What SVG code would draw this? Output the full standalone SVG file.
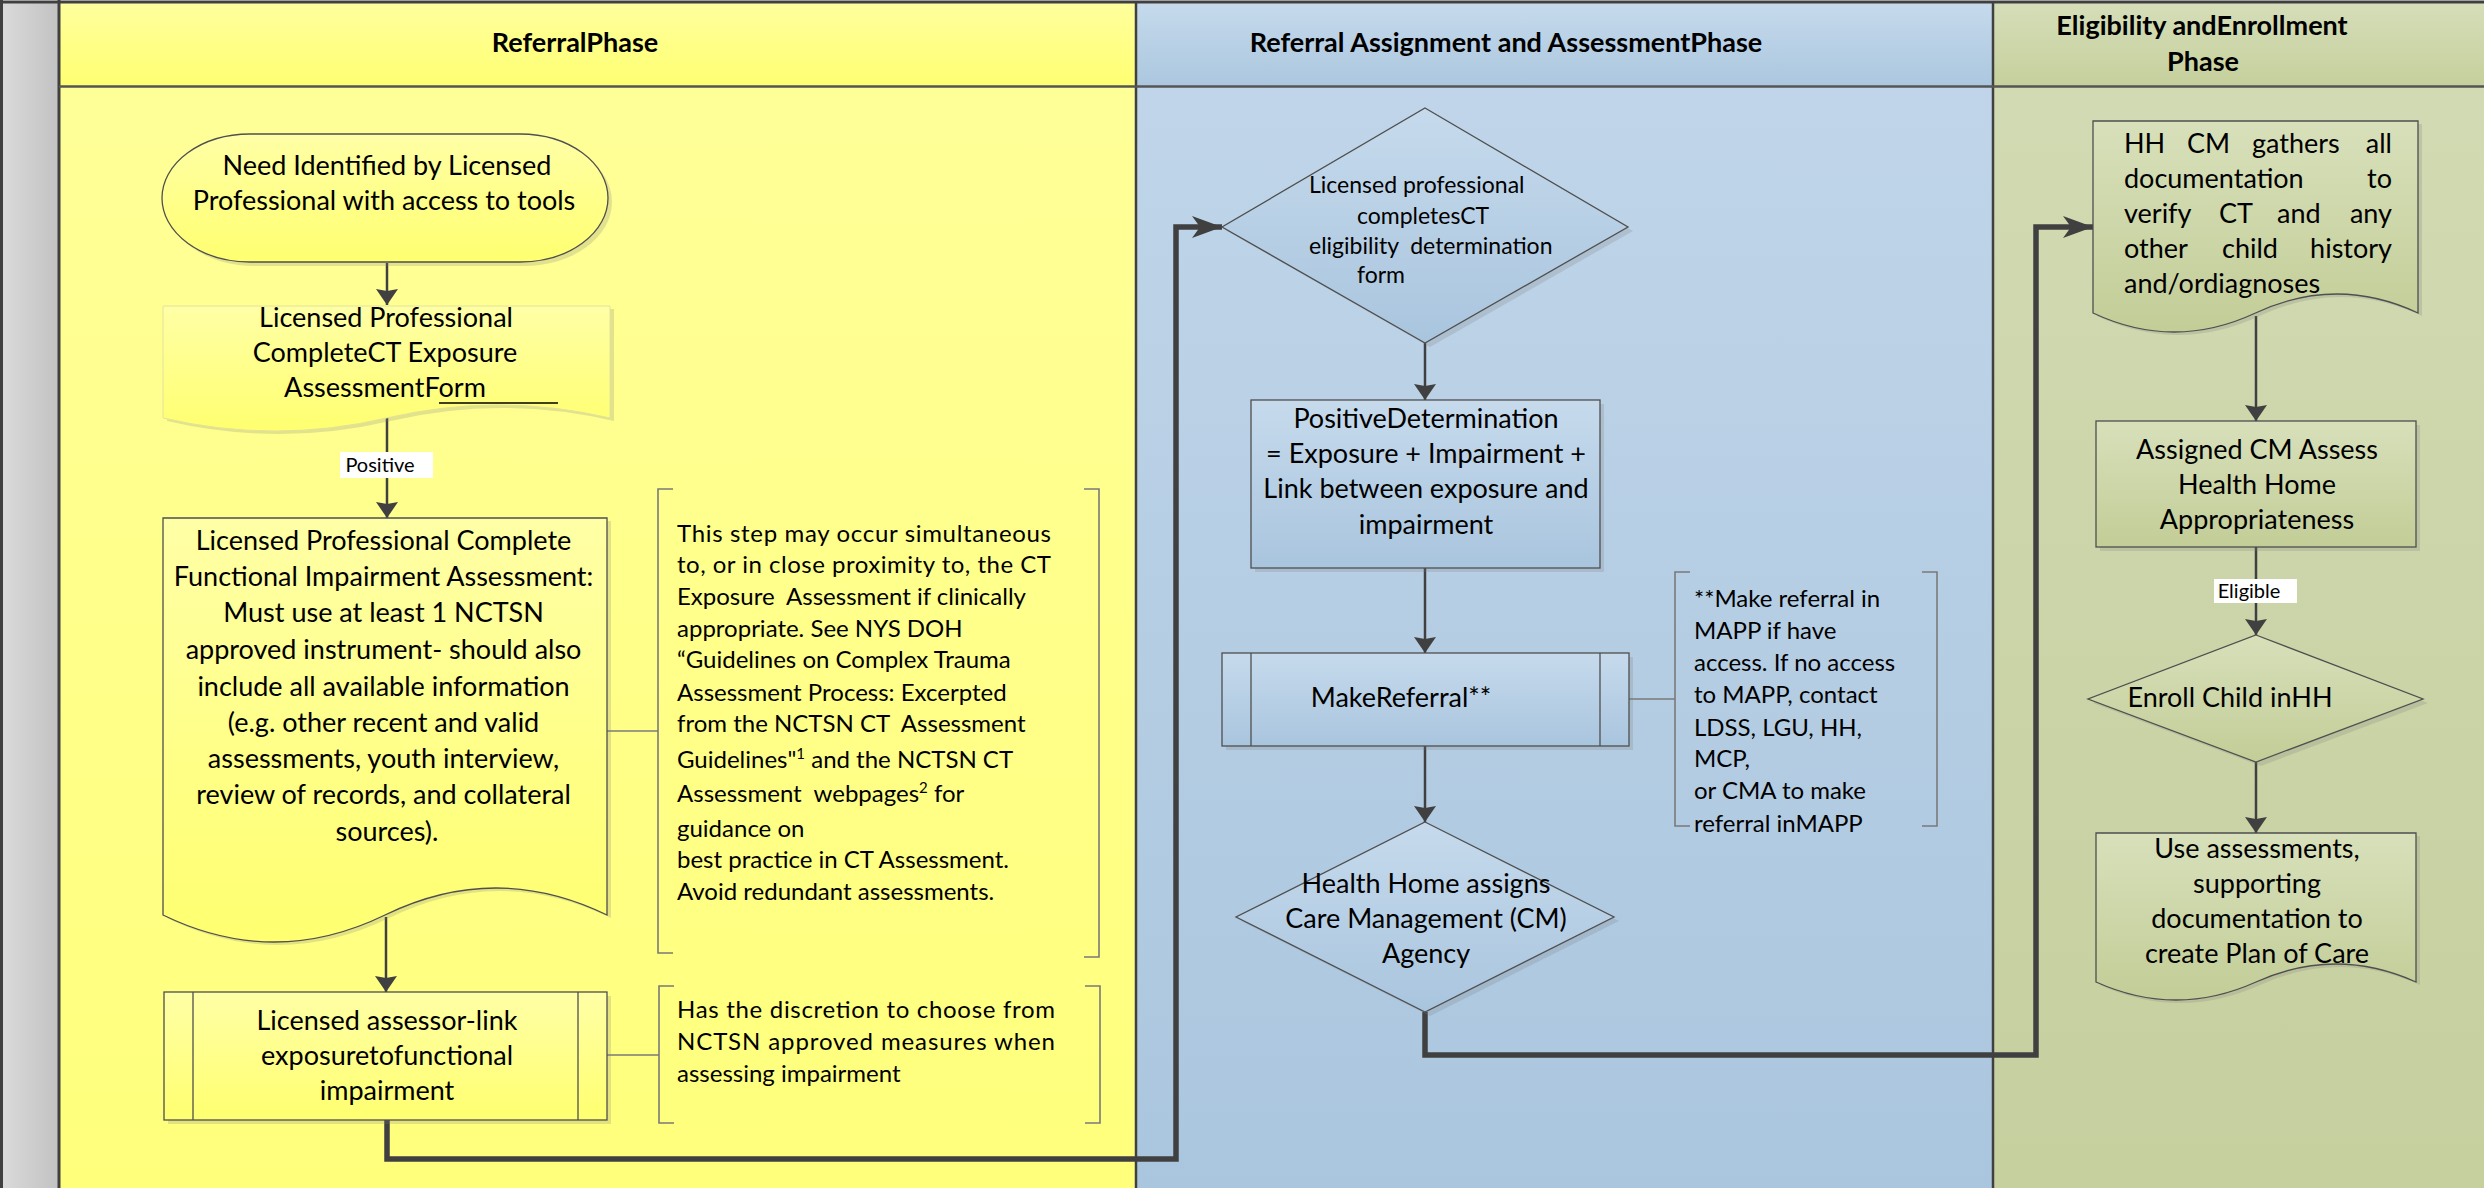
<svg xmlns="http://www.w3.org/2000/svg" width="2484" height="1188" viewBox="0 0 2484 1188">
<defs>
<linearGradient id="gGray" x1="0" y1="0" x2="1" y2="0"><stop offset="0" stop-color="#DADADA"/><stop offset="1" stop-color="#C2C2C2"/></linearGradient>
<linearGradient id="gYh" x1="0" y1="0" x2="0" y2="1"><stop offset="0" stop-color="#FFFF9E"/><stop offset="1" stop-color="#FFFF72"/></linearGradient>
<linearGradient id="gY" x1="0" y1="0" x2="0" y2="1"><stop offset="0" stop-color="#FFFF98"/><stop offset="1" stop-color="#FFFF7C"/></linearGradient>
<linearGradient id="gBh" x1="0" y1="0" x2="0" y2="1"><stop offset="0" stop-color="#C6DAEC"/><stop offset="1" stop-color="#ABC7DF"/></linearGradient>
<linearGradient id="gB" x1="0" y1="0" x2="0" y2="1"><stop offset="0" stop-color="#C0D5E9"/><stop offset="1" stop-color="#AAC6DE"/></linearGradient>
<linearGradient id="gGh" x1="0" y1="0" x2="0" y2="1"><stop offset="0" stop-color="#D5DEB9"/><stop offset="1" stop-color="#C6D09C"/></linearGradient>
<linearGradient id="gG" x1="0" y1="0" x2="0" y2="1"><stop offset="0" stop-color="#D1DAB2"/><stop offset="1" stop-color="#C6CF9E"/></linearGradient>
<linearGradient id="nY" x1="0" y1="0" x2="0" y2="1"><stop offset="0" stop-color="#FFFFA6"/><stop offset="1" stop-color="#FFFF70"/></linearGradient>
<linearGradient id="nB" x1="0" y1="0" x2="0" y2="1"><stop offset="0" stop-color="#C6DAEC"/><stop offset="1" stop-color="#A9C5DE"/></linearGradient>
<linearGradient id="nG" x1="0" y1="0" x2="0" y2="1"><stop offset="0" stop-color="#D7E0BA"/><stop offset="1" stop-color="#C3CD97"/></linearGradient>
<marker id="aThin" markerUnits="userSpaceOnUse" markerWidth="17" markerHeight="22" refX="16" refY="11" orient="auto" viewBox="0 0 17 22">
<path d="M0,0 L16,11 L0,22 L2,11 Z" fill="#404040"/>
</marker>
<marker id="aThick" markerUnits="userSpaceOnUse" markerWidth="31" markerHeight="22" refX="30" refY="11" orient="auto" viewBox="0 0 31 22">
<path d="M0,0 L30,11 L0,22 L8,11 Z" fill="#404040"/>
</marker>
</defs>
<style>
.t{font-family:Lato,"Liberation Sans",sans-serif;fill:#000}
.hd{font-size:27px;font-weight:bold;text-anchor:middle}
.nt{font-size:27px;text-anchor:middle}
.an{font-size:24px;white-space:pre}
.lb{font-size:20px;text-anchor:middle}
.shape{stroke:#4F4F4F;stroke-width:1.3}
.sh{fill:#7A7A7A;opacity:.22}
.cn{fill:none;stroke:#404040;stroke-width:2.5}
.ck{fill:none;stroke:#404040;stroke-width:5.5}
.br{fill:none;stroke:#7A7A7A;stroke-width:1.6}
.inner{stroke:#4F4F4F;stroke-width:1.3}
.lab{fill:#FFFFFF}
</style>

<!-- lanes -->
<g id="lanes">
<rect x="2" y="2" width="57" height="1186" fill="url(#gGray)"/>
<rect x="59" y="2" width="1077" height="84" fill="url(#gYh)"/>
<rect x="59" y="86" width="1077" height="1102" fill="url(#gY)"/>
<rect x="1136" y="2" width="857" height="84" fill="url(#gBh)"/>
<rect x="1136" y="86" width="857" height="1102" fill="url(#gB)"/>
<rect x="1993" y="2" width="491" height="84" fill="url(#gGh)"/>
<rect x="1993" y="86" width="491" height="1102" fill="url(#gG)"/>
<line x1="0" y1="2" x2="2484" y2="2" stroke="#404040" stroke-width="3"/>
<line x1="1.5" y1="0" x2="1.5" y2="1188" stroke="#404040" stroke-width="3"/>
<line x1="59" y1="0" x2="59" y2="1188" stroke="#404040" stroke-width="3"/>
<line x1="1136" y1="2" x2="1136" y2="1188" stroke="#404040" stroke-width="2.5"/>
<line x1="1993" y1="2" x2="1993" y2="1188" stroke="#404040" stroke-width="2.5"/>
<line x1="59" y1="86.5" x2="2484" y2="86.5" stroke="#555555" stroke-width="2.5"/>
<text class="t hd" x="575" y="52">ReferralPhase</text>
<text class="t hd" x="1506" y="52">Referral Assignment and AssessmentPhase</text>
<text class="t hd" x="2202" y="35">Eligibility andEnrollment</text>
<text class="t hd" x="2203" y="71">Phase</text>
</g>

<!-- connectors -->
<g id="connectors">
<line class="cn" x1="387" y1="263" x2="387" y2="305" marker-end="url(#aThin)"/>
<line class="cn" x1="387" y1="418" x2="387" y2="518" marker-end="url(#aThin)"/>
<rect class="lab" x="340" y="452" width="93" height="26"/>
<text class="t lb" x="380" y="472">Positive</text>
<line class="cn" x1="386" y1="917" x2="386" y2="992" marker-end="url(#aThin)"/>
<path class="ck" d="M387,1120 V1159 H1176 V227 H1222" marker-end="url(#aThick)"/>
<line class="cn" x1="1425" y1="343" x2="1425" y2="400" marker-end="url(#aThin)"/>
<line class="cn" x1="1425" y1="568" x2="1425" y2="653" marker-end="url(#aThin)"/>
<line class="cn" x1="1425" y1="746" x2="1425" y2="822" marker-end="url(#aThin)"/>
<path class="ck" d="M1425,1012 V1055 H2036 V227 H2093" marker-end="url(#aThick)"/>
<line class="cn" x1="2256" y1="316" x2="2256" y2="421" marker-end="url(#aThin)"/>
<line class="cn" x1="2256" y1="547" x2="2256" y2="635" marker-end="url(#aThin)"/>
<rect class="lab" x="2214" y="579" width="83" height="24"/>
<text class="t lb" x="2249" y="598">Eligible</text>
<line class="cn" x1="2256" y1="762" x2="2256" y2="833" marker-end="url(#aThin)"/>
<line class="br" x1="607" y1="731" x2="658" y2="731"/>
<line class="br" x1="607" y1="1055" x2="659" y2="1055"/>
<line class="br" x1="1629" y1="699" x2="1675" y2="699"/>
</g>

<!-- Referral phase nodes -->
<g id="n-need">
<path class="sh" transform="translate(4,4)" d="M250,134 H520 A88,64 0 0 1 520,262 H250 A88,64 0 0 1 250,134 Z"/>
<path class="shape" fill="url(#nY)" d="M250,134 H520 A88,64 0 0 1 520,262 H250 A88,64 0 0 1 250,134 Z"/>
<text class="t nt"><tspan x="387" y="175">Need Identified by Licensed</tspan><tspan x="384" y="210">Professional with access to tools</tspan></text>
</g>

<g id="n-exposure">
<path class="sh" transform="translate(4,3)" d="M163,306 H610 V418 Q498,392 386.5,418 T163,418 Z"/>
<path fill="url(#nY)" stroke="#E2E29A" stroke-width="1" d="M163,306 H610 V418 Q498,392 386.5,418 T163,418 Z"/>
<text class="t nt"><tspan x="386" y="327">Licensed Professional</tspan><tspan x="385" y="362">CompleteCT Exposure</tspan><tspan x="385" y="397">AssessmentForm</tspan></text>
<line x1="439" y1="403" x2="558" y2="403" stroke="#000" stroke-width="1.5"/>
</g>

<g id="n-functional">
<path class="sh" transform="translate(4,3)" d="M163,518 H607 V915 Q496,861 385,915 T163,915 Z"/>
<path class="shape" fill="url(#nY)" d="M163,518 H607 V915 Q496,861 385,915 T163,915 Z"/>
<text class="t nt">
<tspan x="387" y="550">Licensed Professional Complete</tspan>
<tspan x="387" y="586">Functional Impairment Assessment:</tspan>
<tspan x="387" y="622">Must use at least 1 NCTSN</tspan>
<tspan x="387" y="659">approved instrument- should also</tspan>
<tspan x="387" y="696">include all available information</tspan>
<tspan x="387" y="732">(e.g. other recent and valid</tspan>
<tspan x="387" y="768">assessments, youth interview,</tspan>
<tspan x="387" y="804">review of records, and collateral</tspan>
<tspan x="387" y="841">sources).</tspan>
</text>
</g>

<g id="n-note1">
<path class="br" d="M673,489 H658 V953 H673"/>
<path class="br" d="M1084,489 H1099 V957 H1084"/>
<text class="t an" x="677" y="542" textLength="374" lengthAdjust="spacing">This step may occur simultaneous</text>
<text class="t an" x="677" y="573" textLength="374" lengthAdjust="spacing">to, or in close proximity to, the CT</text>
<text class="t an" xml:space="preserve">
<tspan x="677" y="605">Exposure  Assessment if clinically</tspan>
<tspan x="677" y="637">appropriate. See NYS DOH</tspan>
<tspan x="677" y="668">“Guidelines on Complex Trauma</tspan>
<tspan x="677" y="701">Assessment Process: Excerpted</tspan>
<tspan x="677" y="732">from the NCTSN CT  Assessment</tspan>
</text>
<text class="t an" x="677" y="768">Guidelines"<tspan font-size="15" dy="-9">1</tspan><tspan dy="9"> and the NCTSN CT</tspan></text>
<text class="t an" x="677" y="802" xml:space="preserve">Assessment  webpages<tspan font-size="15" dy="-9">2</tspan><tspan dy="9"> for</tspan></text>
<text class="t an">
<tspan x="677" y="837">guidance on</tspan>
<tspan x="677" y="868">best practice in CT Assessment.</tspan>
<tspan x="677" y="900">Avoid redundant assessments.</tspan>
</text>
</g>

<g id="n-link">
<rect class="sh" x="168" y="996" width="443" height="128"/>
<rect class="shape" fill="url(#nY)" x="164" y="992" width="443" height="128"/>
<line class="inner" x1="193" y1="992" x2="193" y2="1120"/>
<line class="inner" x1="578" y1="992" x2="578" y2="1120"/>
<text class="t nt"><tspan x="387" y="1030">Licensed assessor-link</tspan><tspan x="387" y="1065">exposuretofunctional</tspan><tspan x="387" y="1100">impairment</tspan></text>
</g>

<g id="n-note2">
<path class="br" d="M674,986 H659 V1123 H674"/>
<path class="br" d="M1085,986 H1100 V1123 H1085"/>
<text class="t an" x="677" y="1018" textLength="378" lengthAdjust="spacing">Has the discretion to choose from</text>
<text class="t an" x="677" y="1050" textLength="378" lengthAdjust="spacing">NCTSN approved measures when</text>
<text class="t an" x="677" y="1082">assessing impairment</text>
</g>

<!-- Referral assignment nodes -->
<g id="n-eligform">
<path class="sh" transform="translate(5,4)" d="M1425,108 L1628,227 L1425,343 L1222,227 Z"/>
<path class="shape" fill="url(#nB)" d="M1425,108 L1628,227 L1425,343 L1222,227 Z"/>
<text class="t" font-size="23" xml:space="preserve" style="white-space:pre"><tspan x="1309" y="193">Licensed professional</tspan><tspan x="1357" y="224">completesCT</tspan><tspan x="1309" y="254">eligibility  determination</tspan><tspan x="1357" y="283">form</tspan></text>
</g>

<g id="n-positive">
<rect class="sh" x="1255" y="404" width="349" height="168"/>
<rect class="shape" fill="url(#nB)" x="1251" y="400" width="349" height="168"/>
<text class="t nt"><tspan x="1426" y="428">PositiveDetermination</tspan><tspan x="1426" y="463">= Exposure + Impairment +</tspan><tspan x="1426" y="498">Link between exposure and</tspan><tspan x="1426" y="534">impairment</tspan></text>
</g>

<g id="n-makeref">
<rect class="sh" x="1226" y="657" width="407" height="93"/>
<rect class="shape" fill="url(#nB)" x="1222" y="653" width="407" height="93"/>
<line class="inner" x1="1251" y1="653" x2="1251" y2="746"/>
<line class="inner" x1="1600" y1="653" x2="1600" y2="746"/>
<text class="t nt" x="1401" y="707">MakeReferral**</text>
</g>

<g id="n-note3">
<path class="br" d="M1690,572 H1675 V826 H1690"/>
<path class="br" d="M1922,572 H1937 V826 H1922"/>
<text class="t an">
<tspan x="1694" y="607">**Make referral in</tspan>
<tspan x="1694" y="639">MAPP if have</tspan>
<tspan x="1694" y="671">access. If no access</tspan>
<tspan x="1694" y="703">to MAPP, contact</tspan>
<tspan x="1694" y="736">LDSS, LGU, HH,</tspan>
<tspan x="1694" y="767">MCP,</tspan>
<tspan x="1694" y="799">or CMA to make</tspan>
<tspan x="1694" y="832">referral inMAPP</tspan>
</text>
</g>

<g id="n-assigncm">
<path class="sh" transform="translate(5,4)" d="M1425,822 L1614,917 L1425,1012 L1236,917 Z"/>
<path class="shape" fill="url(#nB)" d="M1425,822 L1614,917 L1425,1012 L1236,917 Z"/>
<text class="t nt"><tspan x="1426" y="893">Health Home assigns</tspan><tspan x="1426" y="928">Care Management (CM)</tspan><tspan x="1426" y="963">Agency</tspan></text>
</g>

<!-- Eligibility nodes -->
<g id="n-gather">
<path class="sh" transform="translate(4,3)" d="M2093,121 H2418 V313 Q2337,275 2255.5,313 T2093,313 Z"/>
<path class="shape" fill="url(#nG)" d="M2093,121 H2418 V313 Q2337,275 2255.5,313 T2093,313 Z"/>
<g class="t" font-size="27">
<text x="2124" y="153">HH</text><text x="2187" y="153">CM</text><text x="2252" y="153">gathers</text><text x="2392" y="153" text-anchor="end">all</text>
<text x="2124" y="188">documentation</text><text x="2392" y="188" text-anchor="end">to</text>
<text x="2124" y="223">verify</text><text x="2219" y="223">CT</text><text x="2277" y="223">and</text><text x="2392" y="223" text-anchor="end">any</text>
<text x="2124" y="258">other</text><text x="2222" y="258">child</text><text x="2392" y="258" text-anchor="end">history</text>
<text x="2124" y="293">and/ordiagnoses</text>
</g>
</g>

<g id="n-assess">
<rect class="sh" x="2100" y="425" width="320" height="126"/>
<rect class="shape" fill="url(#nG)" x="2096" y="421" width="320" height="126"/>
<text class="t nt"><tspan x="2257" y="459">Assigned CM Assess</tspan><tspan x="2257" y="494">Health Home</tspan><tspan x="2257" y="529">Appropriateness</tspan></text>
</g>

<g id="n-enroll">
<path class="sh" transform="translate(5,4)" d="M2256,635 L2423,699 L2256,762 L2088,699 Z"/>
<path class="shape" fill="url(#nG)" d="M2256,635 L2423,699 L2256,762 L2088,699 Z"/>
<text class="t nt" x="2230" y="707">Enroll Child inHH</text>
</g>

<g id="n-plan">
<path class="sh" transform="translate(4,3)" d="M2096,833 H2416 V982 Q2336,946 2256,982 T2096,982 Z"/>
<path class="shape" fill="url(#nG)" d="M2096,833 H2416 V982 Q2336,946 2256,982 T2096,982 Z"/>
<text class="t nt"><tspan x="2257" y="858">Use assessments,</tspan><tspan x="2257" y="893">supporting</tspan><tspan x="2257" y="928">documentation to</tspan><tspan x="2257" y="963">create Plan of Care</tspan></text>
</g>
</svg>
